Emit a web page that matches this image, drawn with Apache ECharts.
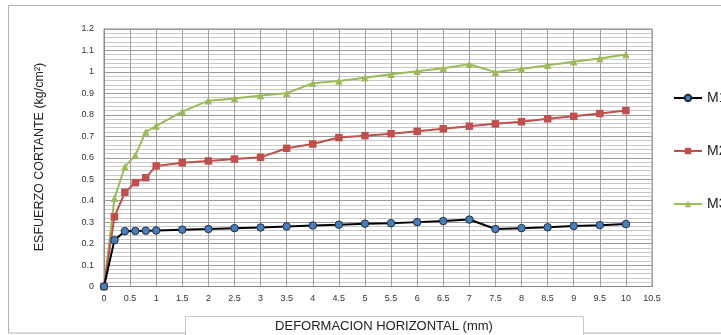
<!DOCTYPE html>
<html><head><meta charset="utf-8">
<script src="https://cdn.jsdelivr.net/npm/echarts@6/dist/echarts.min.js"></script>
<style>html,body{margin:0;padding:0;background:#fff;}#c{width:721px;height:335px;}</style>
</head><body><div id="c"></div>
<script>
var xs = [0,0.2,0.4,0.6,0.8,1,1.5,2,2.5,3,3.5,4,4.5,5,5.5,6,6.5,7,7.5,8,8.5,9,9.5,10];
var m1 = [0,0.216,0.258,0.259,0.260,0.261,0.265,0.268,0.272,0.275,0.280,0.284,0.288,0.293,0.295,0.300,0.305,0.312,0.268,0.272,0.276,0.282,0.286,0.291];
var m2 = [0,0.325,0.439,0.484,0.507,0.562,0.577,0.585,0.594,0.602,0.644,0.664,0.694,0.703,0.712,0.723,0.735,0.747,0.758,0.768,0.782,0.793,0.806,0.820];
var m3 = [0,0.411,0.558,0.612,0.720,0.748,0.815,0.866,0.876,0.890,0.901,0.947,0.958,0.973,0.989,1.003,1.017,1.036,0.999,1.014,1.031,1.047,1.062,1.081];
var seriesNames = ['M1','M2','M3'];
var xTitle = 'DEFORMACION HORIZONTAL (mm)';
var yTitle = 'ESFUERZO CORTANTE (kg/cm²)';

function pairs(ys){ return xs.map(function(x,i){return [x, ys[i]];}); }
var FONT = '"Liberation Sans", Arial, sans-serif';
var chart = echarts.init(document.getElementById('c'), null, {renderer:'canvas'});
chart.setOption({
  animation:false,
  textStyle:{fontFamily:FONT},
  grid:{left:104, right:69, top:29, bottom:48.5, show:true, borderColor:'#8c8c8c', borderWidth:1},
  xAxis:{type:'value', min:0, max:10.5, interval:0.5,
    axisLine:{show:true, lineStyle:{color:'#8c8c8c'}}, axisTick:{show:false},
    axisLabel:{fontSize:9, color:'#333', margin:8, fontFamily:FONT,
      formatter:function(v){return String(+v.toFixed(1));}},
    splitLine:{show:true, lineStyle:{color:'#a0a0a0', width:1}}},
  yAxis:{type:'value', min:0, max:1.2, interval:0.1,
    axisLine:{show:true, lineStyle:{color:'#8c8c8c'}}, axisTick:{show:false},
    axisLabel:{fontSize:9, color:'#333', margin:10, fontFamily:FONT,
      formatter:function(v){return String(+v.toFixed(1));}},
    splitLine:{show:true, lineStyle:{color:'#9a9a9a', width:1}},
    minorTick:{show:false, splitNumber:5},
    minorSplitLine:{show:true, lineStyle:{color:'#c8c8c8', width:1}}},
  legend:{orient:'vertical', left:673, top:91, padding:0, itemGap:39, itemWidth:28, itemHeight:8,
    textStyle:{fontSize:14, color:'#222', fontFamily:FONT},
    data:seriesNames},
  series:[
    {name:seriesNames[0], type:'line', data:pairs(m1), symbol:'circle', symbolSize:7.5,
      lineStyle:{color:'#000', width:2}, itemStyle:{color:'#4a7ebb', borderColor:'#1f2f45', borderWidth:1}, z:4},
    {name:seriesNames[1], type:'line', data:pairs(m2), symbol:'rect', symbolSize:7.5,
      lineStyle:{color:'#c0504d', width:2}, itemStyle:{color:'#c0504d'}, z:3},
    {name:seriesNames[2], type:'line', data:pairs(m3), symbol:'triangle', symbolSize:7.5,
      lineStyle:{color:'#9bbb59', width:2}, itemStyle:{color:'#9bbb59'}, z:2}
  ],
  graphic:[
    {type:'rect', shape:{x:8.5, y:5.5, width:720, height:327.5}, style:{fill:'none', stroke:'#b0b0b0', lineWidth:1}, silent:true, z:-1},
    {type:'rect', shape:{x:185.5, y:316.5, width:398, height:20}, style:{fill:'#fff', stroke:'#c8c8c8', lineWidth:1}, z:10},
    {type:'text', x:384, y:326, style:{text:xTitle, fontSize:13, fill:'#222', fontFamily:FONT, textAlign:'center', textVerticalAlign:'middle'}, z:11},
    {type:'text', x:40, y:157, rotation:Math.PI/2, style:{text:yTitle, fontSize:12.5, fill:'#222', fontFamily:FONT, textAlign:'center', textVerticalAlign:'middle'}, z:11}
  ]
});
</script></body></html>
